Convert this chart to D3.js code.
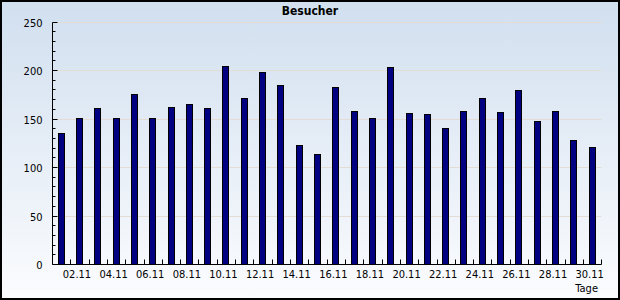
<!DOCTYPE html>
<html>
<head>
<meta charset="utf-8">
<script src="https://cdn.jsdelivr.net/npm/d3@7"></script>
<style>
  html, body { margin: 0; padding: 0; background: #fff; }
  svg { display: block; }
</style>
</head>
<body>
<svg id="chart"></svg>
<script>
// Besucher per day, November
const days = ["01.11","02.11","03.11","04.11","05.11","06.11","07.11","08.11","09.11","10.11",
              "11.11","12.11","13.11","14.11","15.11","16.11","17.11","18.11","19.11","20.11",
              "21.11","22.11","23.11","24.11","25.11","26.11","27.11","28.11","29.11","30.11"];
const visitors = [135, 151, 161, 151, 175, 151, 162, 165, 161, 204,
                  171, 198, 185, 123, 113, 182, 158, 151, 203, 156,
                  155, 140, 158, 171, 157, 179, 147, 158, 128, 121];
const yTicks = [0, 50, 100, 150, 200, 250];
const yMinorTicks = d3.range(0, 251, 10);

const width = 620, height = 300;
const plot = { left: 52, right: 601.3, top: 21.5, bottom: 264 };
const font = "'DejaVu Sans Condensed', 'Liberation Sans', sans-serif";

const svg = d3.select("#chart")
    .attr("width", width)
    .attr("height", height);

// background gradient
const grad = svg.append("defs").append("linearGradient")
    .attr("id", "bg")
    .attr("x1", 0).attr("y1", 0).attr("x2", 0).attr("y2", 1);
grad.append("stop").attr("offset", "0%").attr("stop-color", "#d1dfef");
grad.append("stop").attr("offset", "100%").attr("stop-color", "#fbfcfe");

svg.append("rect")
    .attr("x", 1).attr("y", 1)
    .attr("width", width - 2).attr("height", height - 2)
    .attr("fill", "url(#bg)")
    .attr("stroke", "#000")
    .attr("stroke-width", 2);

const x = d3.scaleBand()
    .domain(days)
    .range([plot.left, plot.right]);

const y = d3.scaleLinear()
    .domain([0, 250])
    .range([plot.bottom, plot.top]);

// gridlines
svg.append("g")
    .selectAll("line")
    .data(yTicks.filter(d => d > 0))
    .enter()
    .append("line")
    .attr("x1", plot.left)
    .attr("x2", plot.right)
    .attr("y1", d => Math.round(y(d)) + 0.5)
    .attr("y2", d => Math.round(y(d)) + 0.5)
    .attr("stroke", "#e3ddd6")
    .attr("stroke-width", 1);

// bars
svg.append("g")
    .selectAll("rect")
    .data(visitors)
    .enter()
    .append("rect")
    .attr("x", (d, i) => Math.round(x(days[i]) + x.bandwidth() / 2 - 3.5) + 0.5)
    .attr("y", d => Math.round(y(d)) + 0.5)
    .attr("width", 6)
    .attr("height", d => Math.round(y(0)) - Math.round(y(d)))
    .attr("fill", "#000080")
    .attr("stroke", "#000")
    .attr("stroke-width", 1);

// y axis: minor ticks, major ticks and labels
const yAxis = svg.append("g").attr("transform", `translate(${plot.left + 0.5}, 0.5)`);
yAxis.append("line")
    .attr("y1", Math.round(y(250)))
    .attr("y2", Math.round(y(0)))
    .attr("stroke", "#000");
yAxis.selectAll(".minor")
    .data(yMinorTicks)
    .enter()
    .append("line")
    .attr("class", "minor")
    .attr("x2", d => d % 50 === 0 ? 5 : 3)
    .attr("y1", d => Math.round(y(d)))
    .attr("y2", d => Math.round(y(d)))
    .attr("stroke", "#000");
yAxis.selectAll("text")
    .data(yTicks)
    .enter()
    .append("text")
    .attr("x", -10)
    .attr("y", d => Math.round(y(d)) + 4)
    .attr("text-anchor", "end")
    .style("font-family", font)
    .style("font-size", "11px")
    .attr("fill", "#000")
    .text(d => d);

// x axis
const xAxis = svg.append("g").attr("transform", `translate(0.5, ${Math.round(y(0)) + 0.5})`);
xAxis.append("line")
    .attr("x1", plot.left)
    .attr("x2", Math.round(plot.right))
    .attr("stroke", "#000");
xAxis.selectAll(".tick")
    .data(days.slice(1).concat(["end"]))
    .enter()
    .append("line")
    .attr("class", "tick")
    .attr("x1", (d, i) => Math.round(plot.left + x.step() * (i + 1)))
    .attr("x2", (d, i) => Math.round(plot.left + x.step() * (i + 1)))
    .attr("y1", -5)
    .attr("y2", 0)
    .attr("stroke", "#000");
xAxis.selectAll("text")
    .data(days.filter((d, i) => i % 2 === 1))
    .enter()
    .append("text")
    .attr("x", d => x(d) + x.bandwidth() / 2 - 3)
    .attr("y", 13)
    .attr("text-anchor", "middle")
    .style("font-family", font)
    .style("font-size", "11px")
    .attr("fill", "#000")
    .text(d => d);

// axis title
svg.append("text")
    .attr("x", 598)
    .attr("y", 292)
    .attr("text-anchor", "end")
    .style("font-family", font)
    .style("font-size", "11px")
    .attr("fill", "#000")
    .text("Tage");

// chart title
svg.append("text")
    .attr("x", 310)
    .attr("y", 15)
    .attr("text-anchor", "middle")
    .style("font-family", font)
    .style("font-size", "12px")
    .style("font-weight", "bold")
    .attr("fill", "#000")
    .text("Besucher");
</script>
</body>
</html>
